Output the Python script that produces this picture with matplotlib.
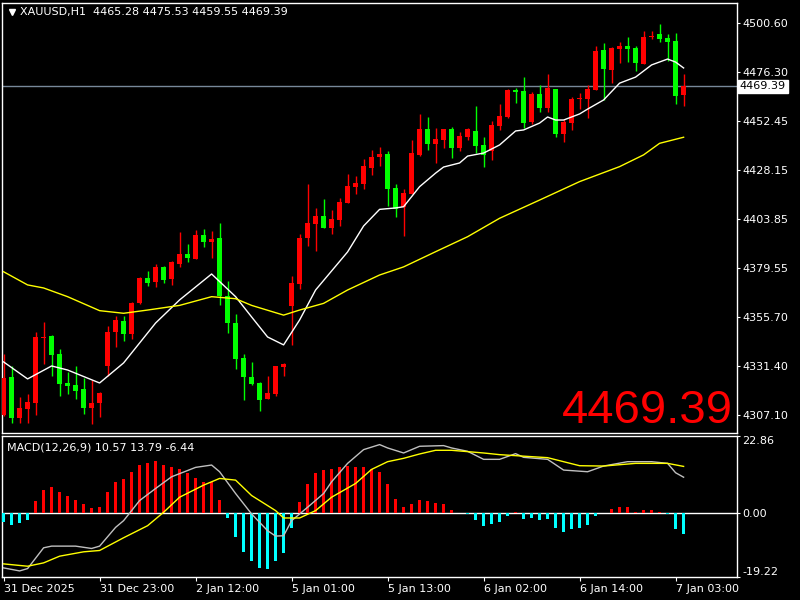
import matplotlib
matplotlib.use('Agg')
import matplotlib.pyplot as plt
import matplotlib.transforms as mtransforms

# H1 candles, 31 Dec 2025 11:00 .. 7 Jan 2026 03:00
opens = [4307.1, 4325.9, 4305.6, 4310.1, 4313.0, 4345.1, 4346.1, 4337.2, 4322.9, 4321.9,
         4319.9, 4310.6, 4313.0, 4331.3, 4348.1, 4353.5, 4347.1, 4362.4, 4374.7, 4372.8,
         4380.1, 4374.2, 4381.6, 4386.6, 4384.1, 4396.0, 4392.5, 4394.5, 4365.8, 4352.5,
         4335.2, 4325.9, 4322.9, 4315.0, 4317.5, 4330.8, 4360.9, 4371.8, 4394.5, 4401.4,
         4405.3, 4399.4, 4403.4, 4411.8, 4419.6, 4421.1, 4429.0, 4434.4, 4435.9, 4419.1,
         4409.8, 4416.2, 4435.4, 4448.3, 4440.9, 4442.8, 4448.3, 4438.9, 4444.3, 4447.3,
         4440.4, 4437.4, 4449.8, 4454.2, 4467.5, 4467.0, 4451.7, 4465.5, 4458.6, 4468.0,
         4445.8, 4451.2, 4463.1, 4463.1, 4467.5, 4487.3, 4477.4, 4487.8, 4489.2, 4488.3,
         4480.4, 4493.7, 4495.2, 4493.2, 4491.7, 4465.28]
highs = [4337.2, 4331.3, 4316.0, 4317.5, 4348.1, 4353.0, 4346.5, 4339.7, 4328.3, 4331.3,
         4325.4, 4324.4, 4318.5, 4351.0, 4356.0, 4356.0, 4362.9, 4375.2, 4378.2, 4381.6,
         4380.6, 4383.1, 4397.4, 4391.5, 4398.4, 4398.9, 4397.9, 4401.9, 4373.2, 4357.0,
         4337.2, 4333.3, 4323.4, 4326.4, 4331.3, 4332.8, 4375.7, 4396.4, 4421.1, 4409.3,
         4413.7, 4408.3, 4414.2, 4426.1, 4425.1, 4433.5, 4437.9, 4439.4, 4437.4, 4421.1,
         4418.6, 4442.8, 4455.7, 4454.2, 4448.8, 4448.3, 4449.3, 4446.8, 4448.8, 4459.6,
         4444.3, 4452.2, 4460.6, 4468.0, 4468.5, 4473.9, 4466.5, 4470.0, 4475.4, 4468.0,
         4453.2, 4464.1, 4466.0, 4470.0, 4489.2, 4490.7, 4488.8, 4491.2, 4493.7, 4489.2,
         4496.6, 4496.6, 4500.1, 4495.2, 4495.7, 4475.53]
lows = [4306.6, 4303.1, 4303.1, 4303.1, 4307.1, 4332.3, 4326.4, 4316.5, 4317.5, 4315.0,
        4307.6, 4302.6, 4306.1, 4326.4, 4340.7, 4343.6, 4344.6, 4361.9, 4370.8, 4370.3,
        4372.3, 4371.3, 4380.1, 4382.6, 4384.1, 4390.0, 4384.6, 4361.4, 4347.6, 4329.8,
        4314.5, 4321.9, 4309.1, 4315.0, 4316.5, 4326.4, 4341.7, 4369.3, 4390.5, 4388.0,
        4399.4, 4396.4, 4400.4, 4411.8, 4416.2, 4418.6, 4425.6, 4430.0, 4410.3, 4404.8,
        4395.5, 4416.2, 4434.9, 4437.9, 4431.5, 4438.9, 4433.9, 4437.4, 4442.8, 4436.4,
        4429.5, 4433.0, 4447.8, 4453.7, 4461.1, 4448.8, 4450.7, 4456.7, 4456.7, 4444.3,
        4441.9, 4447.8, 4458.1, 4453.7, 4467.5, 4462.6, 4470.9, 4480.9, 4481.3, 4476.9,
        4480.4, 4492.7, 4491.2, 4481.8, 4460.6, 4459.55]
closes = [4325.4, 4305.6, 4310.6, 4313.5, 4345.6, 4345.6, 4336.7, 4322.4, 4321.4, 4318.9,
          4310.6, 4313.0, 4318.0, 4348.1, 4354.0, 4347.1, 4362.4, 4374.7, 4372.3, 4380.1,
          4373.7, 4382.6, 4386.6, 4384.6, 4396.0, 4392.5, 4394.0, 4365.8, 4352.5, 4334.7,
          4325.9, 4322.4, 4314.5, 4318.0, 4331.3, 4332.3, 4372.3, 4394.5, 4401.9, 4405.3,
          4399.4, 4403.9, 4412.2, 4420.1, 4421.6, 4430.0, 4434.4, 4435.9, 4418.6, 4408.8,
          4416.7, 4436.4, 4448.3, 4440.9, 4443.3, 4448.3, 4438.9, 4444.8, 4448.3, 4439.9,
          4435.4, 4450.2, 4454.7, 4467.5, 4466.5, 4451.2, 4465.5, 4458.6, 4468.5, 4445.8,
          4451.7, 4463.1, 4463.6, 4468.0, 4486.8, 4477.9, 4488.3, 4489.2, 4487.8, 4480.9,
          4493.7, 4494.2, 4492.7, 4491.2, 4464.6, 4469.39]

# moving averages (at some bars)
ma_fast_idx = [0, 3, 6, 8, 12, 15, 19, 22, 26, 29, 31, 33, 35, 37, 39, 43, 45, 47, 49, 50,
               52, 54, 55, 57, 58, 60, 62, 64, 65, 67, 68, 69, 70, 72, 73, 75, 77, 79, 81, 83, 84, 85]
ma_fast_val = [4333.3, 4324.9, 4331.3, 4329.3, 4322.9, 4332.8, 4352.5, 4363.9, 4376.7, 4365.5,
               4355.5, 4345.6, 4341.7, 4354.0, 4368.8, 4387.6, 4400.4, 4408.6, 4409.3, 4409.9,
               4419.8, 4426.5, 4429.5, 4431.5, 4434.9, 4436.4, 4440.4, 4447.3, 4447.8, 4451.2,
               4454.2, 4452.7, 4452.7, 4455.7, 4458.1, 4462.6, 4470.9, 4473.9, 4479.9, 4482.8,
               4481.3, 4478.4]
ma_slow_idx = [0, 3, 5, 8, 12, 15, 18, 22, 26, 29, 31, 35, 37, 40, 43, 47, 50, 54, 58, 62,
               67, 72, 77, 80, 82, 85]
ma_slow_val = [4377.8, 4371.3, 4369.8, 4365.5, 4358.6, 4357.3, 4358.9, 4361.2, 4365.5, 4364.5,
               4361.2, 4356.4, 4358.9, 4362.2, 4368.8, 4376.2, 4380.2, 4387.7, 4395.1, 4404.2,
               4413.2, 4422.3, 4429.7, 4435.5, 4441.2, 4444.2]

# MACD(12,26,9)
hist = [-2.9, -3.8, -3.2, -2.1, 3.4, 6.7, 7.6, 6.1, 5.1, 3.9,
        2.5, 1.5, 1.8, 6.2, 9.1, 10.0, 12.1, 14.3, 14.8, 15.4,
        14.3, 13.6, 13.0, 11.8, 10.4, 9.1, 9.1, 3.9, -1.5, -7.2,
        -11.8, -14.4, -16.5, -16.9, -14.4, -12.0, -4.7, 3.1, 8.6, 11.8,
        12.7, 13.0, 13.6, 13.9, 13.6, 13.6, 13.0, 12.1, 8.6, 4.2,
        1.8, 2.5, 3.9, 3.6, 3.0, 2.7, 0.9, 0.0, -0.5, -2.1,
        -3.9, -3.3, -2.7, -0.9, 0.3, -1.8, -1.5, -2.1, -1.8, -4.5,
        -5.8, -4.8, -4.5, -3.6, -0.9, 0.0, 1.2, 1.8, 1.8, 0.3,
        0.9, 0.9, 0.3, -0.5, -4.8, -6.44]
macd_idx = [0, 2, 3, 5, 6, 9, 11, 12, 14, 15, 17, 19, 21, 24, 26, 27, 29, 31, 33, 34, 35, 36,
            38, 40, 41, 43, 45, 47, 48, 50, 52, 55, 56, 58, 60, 62, 64, 65, 68, 70, 73, 75,
            78, 81, 83, 84, 85]
macd_val = [-16.5, -17.4, -16.7, -10.5, -10.0, -10.0, -10.7, -10.0, -4.4, -2.4, 3.6, 7.2,
            10.7, 13.5, 14.2, 12.2, 5.7, -0.4, -5.4, -7.0, -6.9, -2.4, 1.6, 5.7, 9.2, 14.7,
            18.8, 20.3, 19.3, 17.8, 19.8, 20.0, 19.3, 18.3, 15.9, 15.9, 17.6, 16.5, 15.9,
            12.7, 12.2, 13.9, 15.2, 15.2, 14.7, 11.9, 10.57]
signal_idx = [0, 3, 5, 7, 10, 12, 15, 18, 20, 22, 25, 27, 29, 31, 34, 35, 37, 39, 41, 44,
              46, 48, 50, 52, 54, 56, 60, 62, 66, 68, 72, 75, 79, 83, 85]
signal_val = [-15.3, -16.0, -15.0, -13.0, -11.7, -11.3, -7.5, -3.9, 0.1, 4.6, 8.2, 10.2,
              9.7, 5.1, 0.6, -1.6, -1.6, 0.6, 4.6, 8.7, 12.9, 15.2, 16.2, 17.5, 18.6, 18.6,
              17.8, 17.3, 16.7, 16.4, 14.0, 13.9, 14.7, 14.7, 13.79]

price_ticks = [4500.60, 4476.30, 4452.45, 4428.15, 4403.85, 4379.55, 4355.70, 4331.40, 4307.10]
time_pos = [0, 12, 24, 36, 48, 60, 72, 84]
time_labels = ['31 Dec 2025', '31 Dec 23:00', '2 Jan 12:00', '5 Jan 01:00',
               '5 Jan 13:00', '6 Jan 02:00', '6 Jan 14:00', '7 Jan 03:00']
last_price = 4469.39

UP = '#ff0000'
DOWN = '#00ff00'

fig = plt.figure(figsize=(8, 6), dpi=100, facecolor='black')
ax = fig.add_axes([0.003, 0.2783, 0.918, 0.7175], facecolor='black')
ax2 = fig.add_axes([0.003, 0.0383, 0.918, 0.235], facecolor='black')

n = len(closes)
xs = list(range(n))
cols = [UP if c >= o else DOWN for o, c in zip(opens, closes)]
ax.vlines(xs, lows, highs, colors=cols, linewidth=1, zorder=3)
bottoms = [min(o, c) for o, c in zip(opens, closes)]
heights = [max(abs(c - o), 0.5) for o, c in zip(opens, closes)]
ax.bar(xs, heights, bottom=bottoms, width=0.62, color=cols, linewidth=0, zorder=4)

ax.plot(ma_fast_idx, ma_fast_val, color='white', lw=1, zorder=5)
ax.plot(ma_slow_idx, ma_slow_val, color='yellow', lw=1, zorder=5)
ax.axhline(last_price, color='#778899', lw=1, zorder=2)

ax.set_xlim(-0.15, 91.65)
ax.set_ylim(4298.2, 4510.7)
ax.set_xticks([])
ax.yaxis.tick_right()
ax.set_yticks(price_ticks)
ax.set_yticklabels(['%.2f' % p for p in price_ticks])
ax.tick_params(axis='y', colors='white', labelsize=8, length=2, pad=2)

tr = mtransforms.blended_transform_factory(ax.transAxes, ax.transData)
ax.text(1.004, last_price, '%.2f' % last_price, transform=tr, ha='left', va='center',
        fontsize=8, color='black', clip_on=False,
        bbox=dict(facecolor='white', edgecolor='white', pad=1.2))

ax.plot([0.013], [0.977], marker='v', color='white', ms=5, transform=ax.transAxes)
ax.text(0.024, 0.977, 'XAUUSD,H1  4465.28 4475.53 4459.55 4469.39', transform=ax.transAxes,
        color='white', fontsize=8, va='center', ha='left')
ax.text(0.995, 0.023, '%.2f' % last_price, transform=ax.transAxes, color='red',
        fontsize=34, ha='right', va='baseline', family='Liberation Sans')

# MACD pane
hcols = [UP if h > 0 else '#00ffff' for h in hist]
ax2.bar(xs, hist, width=0.35, color=hcols, linewidth=0, zorder=3)
ax2.axhline(0, color='white', lw=1, zorder=2)
ax2.plot(macd_idx, macd_val, color='#c0c0c0', lw=1, zorder=4)
ax2.plot(signal_idx, signal_val, color='yellow', lw=1, zorder=5)
ax2.set_xlim(-0.15, 91.65)
ax2.set_ylim(-19.22, 22.86)
ax2.yaxis.tick_right()
ax2.set_yticks([22.86, 0.0, -19.22])
ax2.set_yticklabels(['22.86', '0.00', '-19.22'])
ax2.tick_params(axis='y', colors='white', labelsize=8, length=2, pad=2)
ylabs = ax2.get_yticklabels()
ylabs[0].set_va('top')
ylabs[2].set_va('bottom')
ax2.set_xticks(time_pos)
ax2.set_xticklabels(time_labels, ha='left')
ax2.tick_params(axis='x', colors='white', labelsize=8, length=3, pad=2)
ax2.text(0.0064, 0.92, 'MACD(12,26,9) 10.57 13.79 -6.44', transform=ax2.transAxes,
         color='white', fontsize=8, va='center', ha='left')

for a in (ax, ax2):
    for s in a.spines.values():
        s.set_color('white')
        s.set_linewidth(1)

fig.savefig('out.png', dpi=100, facecolor='black')
